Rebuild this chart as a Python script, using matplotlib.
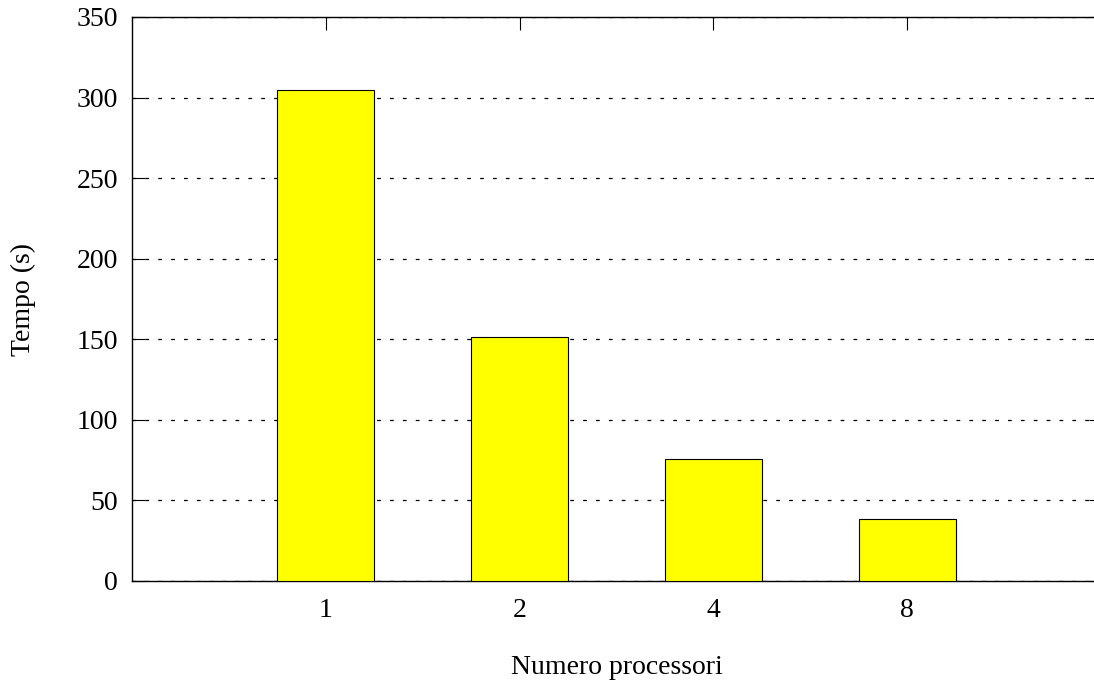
import matplotlib
matplotlib.use("Agg")
import matplotlib.pyplot as plt

processori = ['1', '2', '4', '8']
tempi = [305, 151.5, 75.5, 38.5]

plt.rcParams['font.family'] = ['Liberation Serif', 'DejaVu Serif']

fig = plt.figure(figsize=(10.94, 6.82), dpi=100)
ax = fig.add_axes([132 / 1094, 101 / 682, 969 / 1094, 564 / 682])

x = range(1, len(processori) + 1)
ax.bar(x, tempi, width=0.5, color='#ffff00', edgecolor='black', linewidth=0.8, zorder=3)

ax.set_xlim(0, 5)
ax.set_ylim(0, 350)
ax.set_xticks(list(x))
ax.set_xticklabels(processori)
ax.set_yticks(range(0, 351, 50))

# griglia tratteggiata solo orizzontale, dietro le barre
ax.yaxis.grid(True, color='black', linewidth=0.9, linestyle=(0, (3, 7.3)), zorder=0)
ax.set_axisbelow(True)

ax.tick_params(direction='in', length=9, width=0.8, top=True, right=True, labelsize=20)
ax.tick_params(axis='x', pad=12)
ax.tick_params(axis='y', pad=10)
for s in ax.spines.values():
    s.set_linewidth(1.0)

ax.set_xlabel('Numero processori', fontsize=20, labelpad=23)
ax.set_ylabel('Tempo (s)', fontsize=20, labelpad=29)

fig.savefig('out.png', dpi=100)
